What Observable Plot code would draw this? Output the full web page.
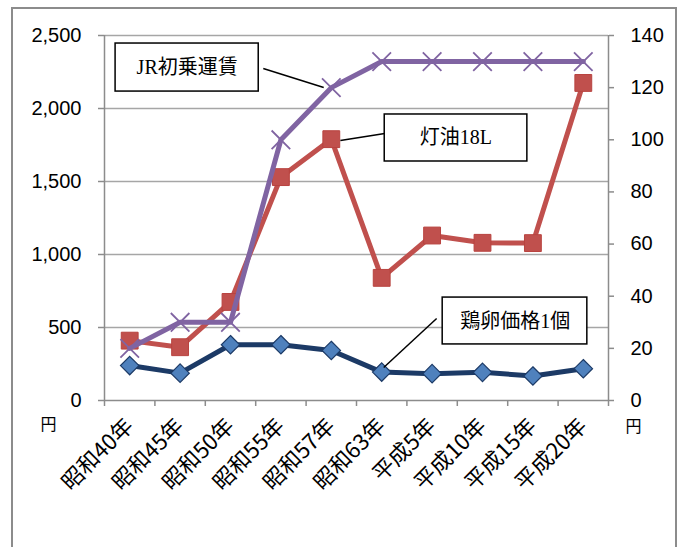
<!DOCTYPE html>
<html><head><meta charset="utf-8">
<script src="https://cdn.jsdelivr.net/npm/d3@7"></script>
<script src="https://cdn.jsdelivr.net/npm/@observablehq/plot@0.6"></script>
<style>
body{margin:0;background:#fff;position:relative;width:683px;height:547px;overflow:hidden}
#frame{position:absolute;left:11px;top:7px;width:666px;height:600px;border:2px solid #8c8c8c;box-sizing:border-box}
#chart{position:absolute;left:0;top:0}
</style></head>
<body><div id="frame"></div><div id="chart"></div>
<script>
const categories = ["昭和40年","昭和45年","昭和50年","昭和55年","昭和57年","昭和63年","平成5年","平成10年","平成15年","平成20年"];
const kerosene = [410, 365, 675, 1530, 1790, 840, 1130, 1080, 1078, 2175]; // 灯油18L (left axis)
const egg = [13.4, 10.5, 21.4, 21.4, 19.2, 10.9, 10.3, 10.8, 9.4, 12.2];     // 鶏卵価格1個 (right axis)
const jr = [20, 30, 30, 100, 120, 130, 130, 130, 130, 130];                   // JR初乗運賃 (right axis)
const leftTicks = [0, 500, 1000, 1500, 2000, 2500];
const rightTicks = [0, 20, 40, 60, 80, 100, 120, 140];
const unitLabel = "円";

// callout annotations (x in category index units, y in left-axis units)
const annText = ["JR初乗運賃", "灯油18L", "鶏卵価格1個"];
const annX1 = [-0.28, 5.06, 6.21], annX2 = [2.56, 7.89, 9.08];
const annY1 = [2116, 1637, 384], annY2 = [2445, 1959, 705];
const annTx = [1.14, 6.47, 7.65], annTy = [2281, 1798, 541];
const leadX1 = [2.65, 5.06, 6.09], leadY1 = [2274, 1829, 562];
const leadX2 = [3.85, 4.18, 5.04], leadY2 = [2144, 1781, 226];

const k = 2500 / 140;
const idx = d3.range(categories.length);
const kData = idx.map(i => ({i, v: kerosene[i]}));
const eData = idx.map(i => ({i, v: egg[i] * k}));
const jData = idx.map(i => ({i, v: jr[i] * k}));
const ann = annText.map((t, j) => ({t, x1: annX1[j], x2: annX2[j], y1: annY1[j], y2: annY2[j], tx: annTx[j], ty: annTy[j], lx1: leadX1[j], ly1: leadY1[j], lx2: leadX2[j], ly2: leadY2[j]}));

const axisGray = "#8c8c8c";
const chart = Plot.plot({
  width: 683, height: 547,
  marginLeft: 104, marginRight: 75, marginTop: 35, marginBottom: 147,
  x: {type: "linear", domain: [-0.5, categories.length - 0.5]},
  y: {domain: [0, 2500]},
  style: {fontFamily: "'Liberation Sans', Arial, sans-serif", fontSize: "20px", color: "#000", background: "transparent", overflow: "visible"},
  marks: [
    Plot.gridY(leftTicks.filter(d => d > 0), {stroke: "#a6a6a6", strokeOpacity: 1, strokeWidth: 1.5}),
    Plot.axisY(leftTicks, {anchor: "left", tickSize: 6, tickPadding: 17, tickFormat: d3.format(","), stroke: axisGray, strokeWidth: 1.5, fill: "#000", label: null, fontSize: 20}),
    Plot.axisY(rightTicks.map(v => v * k), {anchor: "right", tickSize: 5, tickPadding: 17, tickFormat: d => String(Math.round(d / k)), stroke: axisGray, strokeWidth: 1.5, fill: "#000", label: null, fontSize: 20}),
    Plot.ruleX([-0.5, categories.length - 0.5], {stroke: axisGray, strokeWidth: 1.5}),
    Plot.ruleY([0], {stroke: axisGray, strokeWidth: 1.5}),
    Plot.axisX(d3.range(-0.5, categories.length, 1), {tickSize: 6, tickFormat: () => "", stroke: axisGray, strokeWidth: 1.5, label: null}),
    Plot.axisX(idx, {tickSize: 0, tickPadding: 22, tickRotate: -45, tickFormat: i => categories[i], fill: "#000", fontFamily: "'Noto Sans CJK JP', sans-serif", fontSize: 22, label: null}),
    Plot.text([unitLabel], {frameAnchor: "bottom-left", dx: -64, dy: 29, fontFamily: "'Noto Sans CJK JP', sans-serif", fontSize: 16, fill: "#000"}),
    Plot.text([unitLabel], {frameAnchor: "bottom-right", dx: 33, dy: 31, fontFamily: "'Noto Sans CJK JP', sans-serif", fontSize: 16, fill: "#000"}),
    // 灯油18L
    Plot.line(kData, {x: "i", y: "v", stroke: "#c0504d", strokeWidth: 5}),
    Plot.dot(kData, {x: "i", y: "v", symbol: "square", r: 9.5, fill: "#c0504d", stroke: "#b8433f", strokeWidth: 1}),
    // 鶏卵価格1個
    Plot.line(eData, {x: "i", y: "v", stroke: "#1c3a66", strokeWidth: 5}),
    Plot.dot(eData, {x: "i", y: "v", symbol: "diamond2", r: 8.3, fill: "#4f81bd", stroke: "#1c3a66", strokeWidth: 1.2}),
    // JR初乗運賃
    Plot.line(jData, {x: "i", y: "v", stroke: "#8064a2", strokeWidth: 5}),
    Plot.dot(jData, {x: "i", y: "v", symbol: "times", r: 8.5, stroke: "#8064a2", strokeWidth: 1.8}),
    // callouts
    Plot.link(ann, {x1: "lx1", y1: "ly1", x2: "lx2", y2: "ly2", stroke: "#000", strokeWidth: 1.5}),
    Plot.rect(ann, {x1: "x1", x2: "x2", y1: "y1", y2: "y2", fill: "#fff", stroke: "#000", strokeWidth: 1.5}),
    Plot.text(ann, {x: "tx", y: "ty", text: "t", fontFamily: "'Liberation Serif', 'Noto Sans CJK JP', serif", fontSize: 20, fill: "#000"})
  ]
});
document.getElementById("chart").appendChild(chart);
</script>
</body></html>
